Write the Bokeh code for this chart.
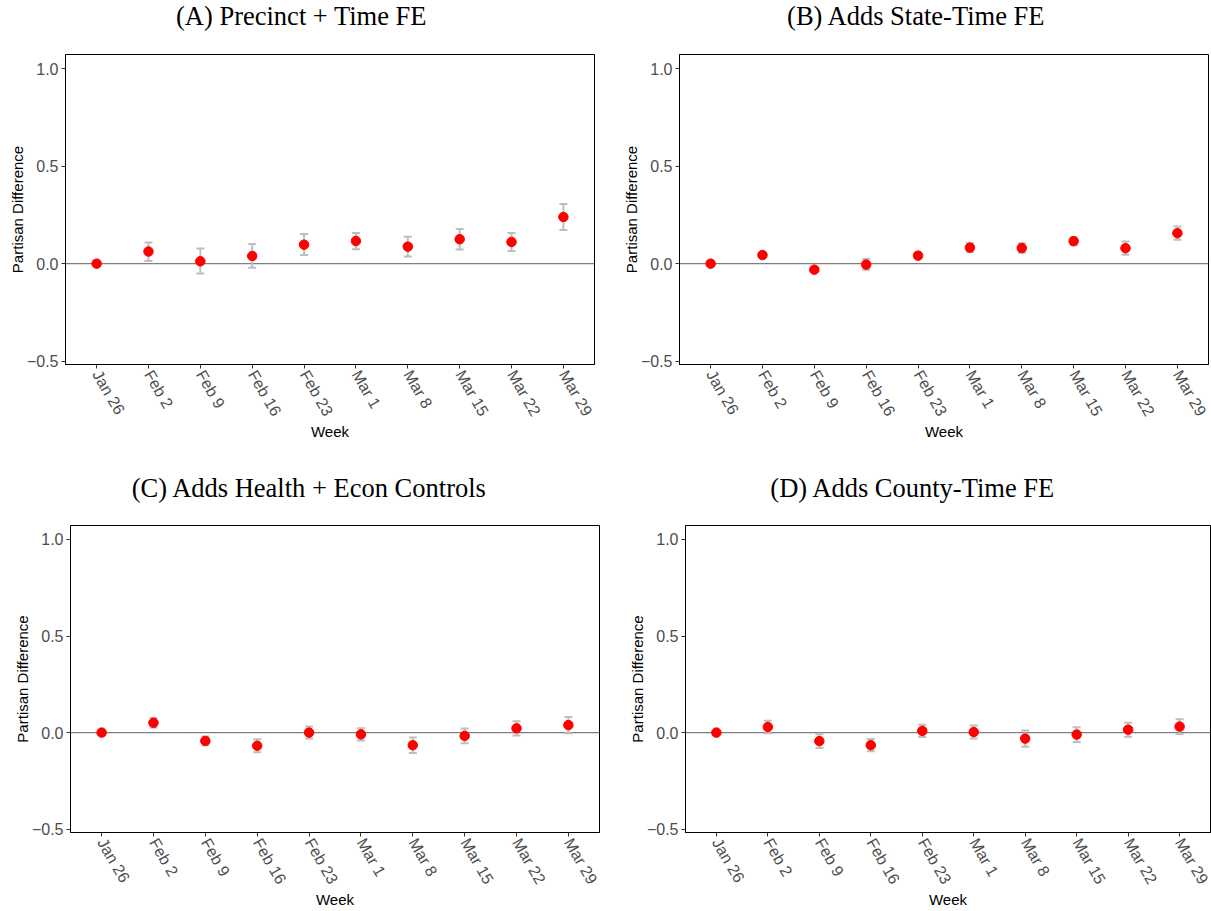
import math
from bokeh.plotting import figure
from bokeh.models import (Range1d, FactorRange, FixedTicker, Span, Whisker, TeeHead,
                          ColumnDataSource)
from bokeh.layouts import column, row
from bokeh.embed import file_html
from bokeh.resources import INLINE

weeks = ["Jan 26", "Feb 2", "Feb 9", "Feb 16", "Feb 23", "Mar 1", "Mar 8", "Mar 15", "Mar 22", "Mar 29"]

title_a = "(A) Precinct + Time FE"
est_a = [0.0, 0.062, 0.012, 0.039, 0.097, 0.116, 0.087, 0.125, 0.111, 0.239]
lo_a = [0.0, 0.014, -0.051, -0.021, 0.044, 0.074, 0.036, 0.072, 0.065, 0.173]
hi_a = [0.0, 0.108, 0.077, 0.101, 0.152, 0.157, 0.138, 0.178, 0.157, 0.306]

title_b = "(B) Adds State-Time FE"
est_b = [0.0, 0.044, -0.031, -0.005, 0.041, 0.082, 0.080, 0.115, 0.079, 0.156]
lo_b = [0.0, 0.036, -0.039, -0.031, 0.027, 0.060, 0.056, 0.095, 0.045, 0.122]
hi_b = [0.0, 0.052, -0.023, 0.024, 0.055, 0.104, 0.104, 0.135, 0.113, 0.190]

title_c = "(C) Adds Health + Econ Controls"
est_c = [0.0, 0.051, -0.043, -0.068, 0.000, -0.009, -0.065, -0.017, 0.022, 0.039]
lo_c = [0.0, 0.027, -0.066, -0.102, -0.031, -0.041, -0.105, -0.055, -0.015, -0.003]
hi_c = [0.0, 0.075, -0.020, -0.034, 0.031, 0.023, -0.025, 0.021, 0.059, 0.081]

title_d = "(D) Adds County-Time FE"
est_d = [0.0, 0.029, -0.044, -0.065, 0.009, 0.003, -0.031, -0.010, 0.015, 0.031]
lo_d = [0.0, -0.003, -0.080, -0.097, -0.023, -0.031, -0.073, -0.048, -0.021, -0.007]
hi_d = [0.0, 0.061, -0.008, -0.033, 0.041, 0.037, 0.011, 0.028, 0.051, 0.069]

y_ticks = [-0.5, 0.0, 0.5, 1.0]
y_tick_labels = ["\u22120.5", "0.0", "0.5", "1.0"]

ERR = "#BEBEBE"
SANS = "Liberation Sans"
SERIF = "Liberation Serif"
TITLE_H = 40


def make_title(text, width, bl, br):
    t = figure(width=width, height=TITLE_H, x_axis_location=None, y_axis_location=None,
               min_border_left=bl, min_border_right=br, min_border_top=0,
               min_border_bottom=0, output_backend="svg", toolbar_location=None)
    t.xgrid.visible = False
    t.ygrid.visible = False
    t.outline_line_color = None
    t.background_fill_color = "white"
    t.border_fill_color = "white"
    t.title.text = text
    t.title.align = "center"
    t.title.vertical_align = "top"
    t.title.standoff = 0
    t.title.text_font = SERIF
    t.title.text_font_size = "26.5px"
    t.title.text_font_style = "normal"
    t.title.text_color = "black"
    return t


def make_panel(est, lo, hi, width, height, bl, br, bt, bb):
    src = ColumnDataSource(dict(week=weeks, est=est, lo=lo, hi=hi))
    p = figure(x_range=FactorRange(factors=weeks, range_padding=0.1,
                                   range_padding_units="absolute"),
               y_range=Range1d(-0.517, 1.072),
               width=width, height=height,
               min_border_left=bl, min_border_right=br,
               min_border_top=bt, min_border_bottom=bb,
               output_backend="svg", toolbar_location=None)
    p.xgrid.visible = False
    p.ygrid.visible = False
    p.outline_line_color = "black"
    p.outline_line_width = 1
    p.outline_line_alpha = 1
    p.background_fill_color = "white"
    p.border_fill_color = "white"

    p.add_layout(Span(location=0, dimension="width", line_color="#7F7F7F",
                      line_width=1.3, level="underlay"))
    p.add_layout(Whisker(source=src, base="week", lower="lo", upper="hi",
                         dimension="height", line_color=ERR, line_width=2,
                         level="underlay",
                         upper_head=TeeHead(size=8, line_color=ERR, line_width=2),
                         lower_head=TeeHead(size=8, line_color=ERR, line_width=2)))
    p.scatter("week", "est", source=src, size=9.5, color="#FF0000")

    p.yaxis.ticker = FixedTicker(ticks=y_ticks)
    p.yaxis.major_label_overrides = dict(zip(y_ticks, y_tick_labels))
    p.yaxis.minor_tick_line_color = None
    p.xaxis.major_label_orientation = -math.pi / 3
    for ax in (p.xaxis[0], p.yaxis[0]):
        ax.axis_line_color = "black"
        ax.axis_line_width = 1
        ax.major_tick_in = 0
        ax.major_tick_out = 4
        ax.major_tick_line_color = "#333333"
        ax.major_label_text_font = SANS
        ax.major_label_text_font_size = "16px"
        ax.major_label_text_color = "#4D4D4D"
        ax.major_label_standoff = 3
        ax.axis_label_text_font = SANS
        ax.axis_label_text_font_size = "15px"
        ax.axis_label_text_font_style = "normal"
        ax.axis_label_text_color = "black"
    p.yaxis.axis_label = "Partisan Difference"
    p.yaxis.axis_label_standoff = -2
    p.xaxis.axis_label = "Week"
    p.xaxis.axis_label_standoff = -3
    return p


ta = make_title(title_a, 605, 0, 3)
tb = make_title(title_b, 606, 16, 0)
tc = make_title(title_c, 605, 13, 0)
td = make_title(title_d, 606, 9, 0)

pa = make_panel(est_a, lo_a, hi_a, 605, 432, 65, 11, 14, 108)
pb = make_panel(est_b, lo_b, hi_b, 606, 432, 74, 3, 14, 108)
pc = make_panel(est_c, lo_c, hi_c, 605, 399, 70, 6, 13, 76)
pd = make_panel(est_d, lo_d, hi_d, 606, 399, 80, 1, 13, 76)

layout = column(row(ta, tb), row(pa, pb), row(tc, td), row(pc, pd))
open("out.html", "w").write(file_html(layout, INLINE))
